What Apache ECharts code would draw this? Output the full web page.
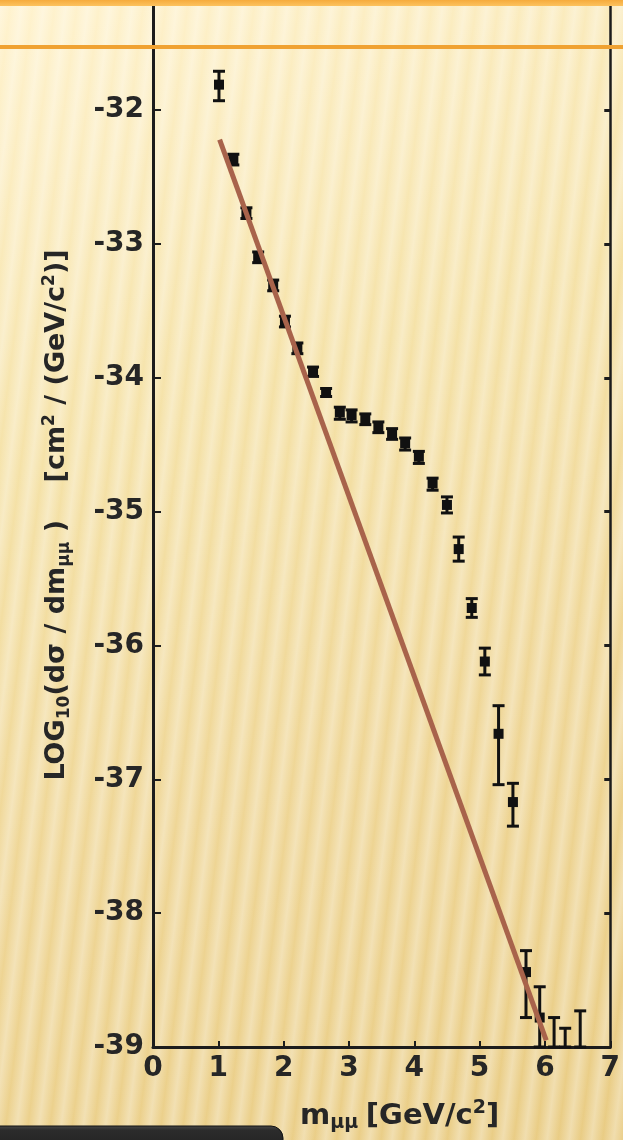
<!DOCTYPE html>
<html>
<head>
<meta charset="utf-8">
<title>Drell-Yan</title>
<script src="https://cdn.jsdelivr.net/npm/echarts@6/dist/echarts.min.js"></script>
<style>
html, body { margin: 0; padding: 0; }
body {
	width: 623px; height: 1140px; overflow: hidden;
	background:
		repeating-linear-gradient(97deg, rgba(255,255,255,0.34) 0px, rgba(255,255,255,0) 11px, rgba(255,255,255,0.34) 22px),
		linear-gradient(160deg, #fff3cf 0%, #f5e2a8 35%, #efd696 65%, #e9cc84 100%);
}
#main { width: 623px; height: 1140px; }
</style>
</head>
<body>
<div id="main"></div>
<script>
//质量 m_μμ (GeV/c²)
var massX = [1.01, 1.23, 1.43, 1.61, 1.84, 2.02, 2.21, 2.45, 2.65, 2.86, 3.04, 3.25, 3.45, 3.66,
	3.86, 4.07, 4.28, 4.50, 4.68, 4.88, 5.08, 5.29, 5.51, 5.71, 5.92, 6.14, 6.31, 6.54];
//log10 截面
var logSigma = [-31.81, -32.37, -32.77, -33.10, -33.31, -33.58, -33.78, -33.95, -34.11, -34.26, -34.28, -34.31, -34.37, -34.42,
	-34.49, -34.59, -34.79, -34.95, -35.28, -35.72, -36.12, -36.66, -37.17, -38.44, -38.78, -39.0, -39.0, -39.0];
//误差上下限
var errHigh = [-31.71, -32.33, -32.73, -33.06, -33.27, -33.54, -33.74, -33.92, -34.08, -34.22, -34.24, -34.27, -34.33, -34.38,
	-34.45, -34.55, -34.75, -34.89, -35.19, -35.65, -36.02, -36.45, -37.03, -38.28, -38.55, -38.78, -38.86, -38.73];
var errLow = [-31.93, -32.41, -32.81, -33.14, -33.35, -33.62, -33.82, -33.99, -34.14, -34.31, -34.33, -34.35, -34.41, -34.46,
	-34.54, -34.64, -34.84, -35.01, -35.37, -35.79, -36.22, -37.04, -37.35, -38.78, -39.0, -39.0, -39.0, -39.0];
//拟合直线
var fitX = [1.02, 6.02];
var fitY = [-32.22, -38.95];

var axisColor = '#1c1c1c';
var textColor = '#262626';

//误差棒绘制
var renderErrorBar = function(params, api) {
	var x = api.value(0);
	var top = api.coord([x, api.value(2)]);
	var bottom = api.coord([x, api.value(3)]);
	var mid = api.coord([x, api.value(1)]);
	var capW = 6;
	var style = { stroke: '#111', lineWidth: 3 };
	var children = [
		{ type: 'line', shape: { x1: top[0], y1: top[1], x2: bottom[0], y2: bottom[1] }, style: style },
		{ type: 'line', shape: { x1: top[0] - capW, y1: top[1], x2: top[0] + capW, y2: top[1] }, style: style },
		{ type: 'line', shape: { x1: bottom[0] - capW, y1: bottom[1], x2: bottom[0] + capW, y2: bottom[1] }, style: style }
	];
	if (api.value(1) > api.value(3)) {
		children.push({ type: 'rect', shape: { x: mid[0] - 5, y: mid[1] - 5, width: 10, height: 10 }, style: { fill: '#111' } });
	}
	return { type: 'group', children: children };
};

var pointData = massX.map(function(x, i) {
	return [x, logSigma[i], errHigh[i], errLow[i]];
});
var fitData = fitX.map(function(x, i) {
	return [x, fitY[i]];
});

var intLabel = function(v) {
	return Math.abs(v - Math.round(v)) < 1e-6 ? String(Math.round(v)) : '';
};

var chart = echarts.init(document.getElementById('main'));
chart.setOption({
	backgroundColor: 'transparent',
	animation: false,
	grid: { left: 153, right: 5, top: 3, bottom: 93 },
	xAxis: {
		type: 'value', min: 0, max: 7, interval: 1,
		axisLine: { lineStyle: { color: axisColor, width: 3 } },
		axisTick: { inside: true, length: 6, lineStyle: { color: axisColor, width: 2 } },
		axisLabel: { fontSize: 28, fontWeight: 'bold', fontFamily: 'DejaVu Sans', color: textColor, margin: 8, formatter: intLabel },
		splitLine: { show: false },
		name: '{t|m}{sub|μμ}  {t|[GeV/c}{sup|2}{t|]}',
		nameLocation: 'middle',
		nameGap: 52,
		nameTextStyle: {
			fontFamily: 'DejaVu Sans', color: textColor, padding: [0, 0, 0, 36],
			rich: {
				t: { fontSize: 29, fontWeight: 'bold', lineHeight: 34, fontFamily: 'DejaVu Sans', color: textColor },
				sub: { fontSize: 19, fontWeight: 'bold', lineHeight: 18, verticalAlign: 'bottom', fontFamily: 'DejaVu Sans', color: textColor },
				sup: { fontSize: 19, fontWeight: 'bold', lineHeight: 18, verticalAlign: 'top', fontFamily: 'DejaVu Sans', color: textColor }
			}
		}
	},
	yAxis: [{
		type: 'value', min: -39, max: -31.2, interval: 1,
		axisLine: { lineStyle: { color: axisColor, width: 3 } },
		axisTick: { inside: true, length: 8, lineStyle: { color: axisColor, width: 2 } },
		axisLabel: { fontSize: 28, fontWeight: 'bold', fontFamily: 'DejaVu Sans', color: textColor, margin: 9, formatter: intLabel },
		splitLine: { show: false },
		name: '{t|LOG}{sub|10}{t|(dσ / dm}{sub|μμ}{t| )    [cm}{sup|2}{t| / (GeV/c}{sup|2}{t|)]}',
		nameLocation: 'middle',
		nameGap: 80,
		nameTextStyle: {
			fontFamily: 'DejaVu Sans', color: textColor, padding: [0, 0, 0, 20],
			rich: {
				t: { fontSize: 27, fontWeight: 'bold', lineHeight: 32, fontFamily: 'DejaVu Sans', color: textColor },
				sub: { fontSize: 17, fontWeight: 'bold', lineHeight: 16, verticalAlign: 'bottom', fontFamily: 'DejaVu Sans', color: textColor },
				sup: { fontSize: 17, fontWeight: 'bold', lineHeight: 16, verticalAlign: 'top', fontFamily: 'DejaVu Sans', color: textColor }
			}
		}
	}, {
		type: 'value', position: 'right', min: -39, max: -31.2, interval: 1,
		axisLine: { show: true, lineStyle: { color: axisColor, width: 2.5 } },
		axisTick: { inside: true, length: 6, lineStyle: { color: axisColor, width: 3 } },
		axisLabel: { show: false },
		splitLine: { show: false }
	}],
	graphic: [{
		type: 'rect', z: 100,
		shape: { x: 0, y: 0, width: 623, height: 6 },
		style: { fill: new echarts.graphic.LinearGradient(0, 0, 0, 1, [
			{ offset: 0, color: '#f6ab3c' }, { offset: 1, color: '#fcc25e' }]) }
	}, {
		type: 'rect', z: 100,
		shape: { x: 0, y: 45, width: 623, height: 4 },
		style: { fill: '#f0a232' }
	}, {
		type: 'rect', z: 100,
		shape: { x: -12, y: 1126, width: 295, height: 30, r: [0, 12, 0, 0] },
		style: { fill: new echarts.graphic.LinearGradient(0, 0, 0, 1, [
			{ offset: 0, color: '#4a4a4a' }, { offset: 0.15, color: '#2c2c2c' }, { offset: 1, color: '#1e1e1e' }]),
			stroke: '#111', lineWidth: 1 }
	}],
	series: [{
		type: 'custom',
		renderItem: renderErrorBar,
		data: pointData,
		clip: false,
		z: 3
	}, {
		type: 'line',
		data: fitData,
		symbol: 'none',
		lineStyle: { color: '#a8634b', width: 5 },
		z: 4
	}]
});
</script>
</body>
</html>
